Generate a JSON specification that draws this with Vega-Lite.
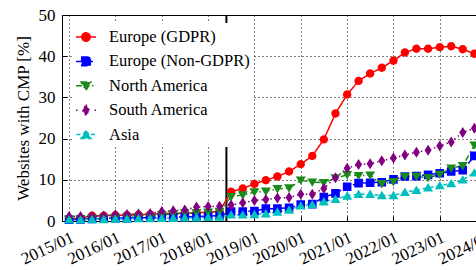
{
"$schema": "https://vega.github.io/schema/vega-lite/v6.json",
"width": 428, "height": 206,
"autosize": {"type": "none"},
"padding": {"left": 62, "top": 15, "right": -14, "bottom": 49},
"background": "white",
"config": {
  "view": {"stroke": "black", "strokeWidth": 1},
  "font": "Liberation Serif",
  "axis": {"labelFont": "Liberation Serif", "labelColor": "black", "labelFontSize": 17, "titleFont": "Liberation Serif", "titleColor": "black", "titleFontSize": 17, "titleFontWeight": "normal", "domainColor": "black", "tickColor": "black", "tickSize": -5, "gridColor": "black", "gridOpacity": 1, "gridDash": [1, 3], "gridWidth": 1},
  "legend": {"fillColor": "white", "padding": 3, "labelFont": "Liberation Serif", "labelFontSize": 16.5, "labelColor": "black", "symbolSize": 400, "symbolStrokeWidth": 1.5, "symbolOpacity": 1, "labelOffset": 12, "rowPadding": 4.4, "labelLimit": 300}
},
"datasets": {
"series": [
{"d":"2015/01/01","r":"Europe (GDPR)","v":0.5},{"d":"2015/04/01","r":"Europe (GDPR)","v":0.7},{"d":"2015/07/01","r":"Europe (GDPR)","v":1.3},{"d":"2015/10/01","r":"Europe (GDPR)","v":1.3},
{"d":"2016/01/01","r":"Europe (GDPR)","v":1.4},{"d":"2016/04/01","r":"Europe (GDPR)","v":1.4},{"d":"2016/07/01","r":"Europe (GDPR)","v":1.5},{"d":"2016/10/01","r":"Europe (GDPR)","v":1.6},
{"d":"2017/01/01","r":"Europe (GDPR)","v":1.8},{"d":"2017/04/01","r":"Europe (GDPR)","v":1.9},{"d":"2017/07/01","r":"Europe (GDPR)","v":1.9},{"d":"2017/10/01","r":"Europe (GDPR)","v":2.0},
{"d":"2018/01/01","r":"Europe (GDPR)","v":2.1},{"d":"2018/04/01","r":"Europe (GDPR)","v":2.4},{"d":"2018/07/01","r":"Europe (GDPR)","v":7.1},{"d":"2018/10/01","r":"Europe (GDPR)","v":7.9},
{"d":"2019/01/01","r":"Europe (GDPR)","v":9.0},{"d":"2019/04/01","r":"Europe (GDPR)","v":9.9},{"d":"2019/07/01","r":"Europe (GDPR)","v":10.8},{"d":"2019/10/01","r":"Europe (GDPR)","v":12.0},
{"d":"2020/01/01","r":"Europe (GDPR)","v":13.8},{"d":"2020/04/01","r":"Europe (GDPR)","v":15.8},{"d":"2020/07/01","r":"Europe (GDPR)","v":19.8},{"d":"2020/10/01","r":"Europe (GDPR)","v":26.1},
{"d":"2021/01/01","r":"Europe (GDPR)","v":30.7},{"d":"2021/04/01","r":"Europe (GDPR)","v":34.0},{"d":"2021/07/01","r":"Europe (GDPR)","v":35.8},{"d":"2021/10/01","r":"Europe (GDPR)","v":37.2},
{"d":"2022/01/01","r":"Europe (GDPR)","v":38.9},{"d":"2022/04/01","r":"Europe (GDPR)","v":40.9},{"d":"2022/07/01","r":"Europe (GDPR)","v":41.8},{"d":"2022/10/01","r":"Europe (GDPR)","v":41.8},
{"d":"2023/01/01","r":"Europe (GDPR)","v":42.2},{"d":"2023/04/01","r":"Europe (GDPR)","v":42.4},{"d":"2023/07/01","r":"Europe (GDPR)","v":41.7},{"d":"2023/10/01","r":"Europe (GDPR)","v":40.6},
{"d":"2015/01/01","r":"Europe (Non-GDPR)","v":0.3},{"d":"2015/04/01","r":"Europe (Non-GDPR)","v":0.4},{"d":"2015/07/01","r":"Europe (Non-GDPR)","v":0.5},{"d":"2015/10/01","r":"Europe (Non-GDPR)","v":0.6},
{"d":"2016/01/01","r":"Europe (Non-GDPR)","v":0.7},{"d":"2016/04/01","r":"Europe (Non-GDPR)","v":0.7},{"d":"2016/07/01","r":"Europe (Non-GDPR)","v":0.8},{"d":"2016/10/01","r":"Europe (Non-GDPR)","v":0.8},
{"d":"2017/01/01","r":"Europe (Non-GDPR)","v":0.9},{"d":"2017/04/01","r":"Europe (Non-GDPR)","v":0.9},{"d":"2017/07/01","r":"Europe (Non-GDPR)","v":1.0},{"d":"2017/10/01","r":"Europe (Non-GDPR)","v":1.1},
{"d":"2018/01/01","r":"Europe (Non-GDPR)","v":1.2},{"d":"2018/04/01","r":"Europe (Non-GDPR)","v":1.3},{"d":"2018/07/01","r":"Europe (Non-GDPR)","v":2.3},{"d":"2018/10/01","r":"Europe (Non-GDPR)","v":2.3},
{"d":"2019/01/01","r":"Europe (Non-GDPR)","v":2.4},{"d":"2019/04/01","r":"Europe (Non-GDPR)","v":3.0},{"d":"2019/07/01","r":"Europe (Non-GDPR)","v":3.0},{"d":"2019/10/01","r":"Europe (Non-GDPR)","v":3.2},
{"d":"2020/01/01","r":"Europe (Non-GDPR)","v":4.0},{"d":"2020/04/01","r":"Europe (Non-GDPR)","v":4.1},{"d":"2020/07/01","r":"Europe (Non-GDPR)","v":5.8},{"d":"2020/10/01","r":"Europe (Non-GDPR)","v":6.7},
{"d":"2021/01/01","r":"Europe (Non-GDPR)","v":8.3},{"d":"2021/04/01","r":"Europe (Non-GDPR)","v":9.2},{"d":"2021/07/01","r":"Europe (Non-GDPR)","v":9.3},{"d":"2021/10/01","r":"Europe (Non-GDPR)","v":9.4},
{"d":"2022/01/01","r":"Europe (Non-GDPR)","v":10.1},{"d":"2022/04/01","r":"Europe (Non-GDPR)","v":10.8},{"d":"2022/07/01","r":"Europe (Non-GDPR)","v":10.9},{"d":"2022/10/01","r":"Europe (Non-GDPR)","v":11.2},
{"d":"2023/01/01","r":"Europe (Non-GDPR)","v":11.6},{"d":"2023/04/01","r":"Europe (Non-GDPR)","v":12.0},{"d":"2023/07/01","r":"Europe (Non-GDPR)","v":12.3},{"d":"2023/10/01","r":"Europe (Non-GDPR)","v":15.8},
{"d":"2015/01/01","r":"North America","v":0.4},{"d":"2015/04/01","r":"North America","v":0.5},{"d":"2015/07/01","r":"North America","v":0.6},{"d":"2015/10/01","r":"North America","v":0.7},
{"d":"2016/01/01","r":"North America","v":0.8},{"d":"2016/04/01","r":"North America","v":0.9},{"d":"2016/07/01","r":"North America","v":1.0},{"d":"2016/10/01","r":"North America","v":1.1},
{"d":"2017/01/01","r":"North America","v":1.5},{"d":"2017/04/01","r":"North America","v":1.7},{"d":"2017/07/01","r":"North America","v":1.9},{"d":"2017/10/01","r":"North America","v":2.0},
{"d":"2018/01/01","r":"North America","v":2.1},{"d":"2018/04/01","r":"North America","v":2.3},{"d":"2018/07/01","r":"North America","v":5.9},{"d":"2018/10/01","r":"North America","v":6.3},
{"d":"2019/01/01","r":"North America","v":7.0},{"d":"2019/04/01","r":"North America","v":7.2},{"d":"2019/07/01","r":"North America","v":7.8},{"d":"2019/10/01","r":"North America","v":8.0},
{"d":"2020/01/01","r":"North America","v":9.9},{"d":"2020/04/01","r":"North America","v":9.4},{"d":"2020/07/01","r":"North America","v":9.3},{"d":"2020/10/01","r":"North America","v":10.4},
{"d":"2021/01/01","r":"North America","v":11.2},{"d":"2021/04/01","r":"North America","v":11.0},{"d":"2021/07/01","r":"North America","v":11.1},{"d":"2021/10/01","r":"North America","v":9.0},
{"d":"2022/01/01","r":"North America","v":9.5},{"d":"2022/04/01","r":"North America","v":10.8},{"d":"2022/07/01","r":"North America","v":10.8},{"d":"2022/10/01","r":"North America","v":10.5},
{"d":"2023/01/01","r":"North America","v":11.3},{"d":"2023/04/01","r":"North America","v":12.8},{"d":"2023/07/01","r":"North America","v":13.4},{"d":"2023/10/01","r":"North America","v":18.4},
{"d":"2015/01/01","r":"South America","v":1.1},{"d":"2015/04/01","r":"South America","v":1.1},{"d":"2015/07/01","r":"South America","v":1.1},{"d":"2015/10/01","r":"South America","v":1.2},
{"d":"2016/01/01","r":"South America","v":1.5},{"d":"2016/04/01","r":"South America","v":1.6},{"d":"2016/07/01","r":"South America","v":1.7},{"d":"2016/10/01","r":"South America","v":1.8},
{"d":"2017/01/01","r":"South America","v":2.3},{"d":"2017/04/01","r":"South America","v":2.5},{"d":"2017/07/01","r":"South America","v":2.7},{"d":"2017/10/01","r":"South America","v":3.4},
{"d":"2018/01/01","r":"South America","v":3.5},{"d":"2018/04/01","r":"South America","v":3.6},{"d":"2018/07/01","r":"South America","v":3.9},{"d":"2018/10/01","r":"South America","v":4.4},
{"d":"2019/01/01","r":"South America","v":5.0},{"d":"2019/04/01","r":"South America","v":5.2},{"d":"2019/07/01","r":"South America","v":5.6},{"d":"2019/10/01","r":"South America","v":5.7},
{"d":"2020/01/01","r":"South America","v":6.5},{"d":"2020/04/01","r":"South America","v":6.5},{"d":"2020/07/01","r":"South America","v":7.9},{"d":"2020/10/01","r":"South America","v":10.5},
{"d":"2021/01/01","r":"South America","v":12.8},{"d":"2021/04/01","r":"South America","v":13.7},{"d":"2021/07/01","r":"South America","v":13.9},{"d":"2021/10/01","r":"South America","v":14.6},
{"d":"2022/01/01","r":"South America","v":15.3},{"d":"2022/04/01","r":"South America","v":16.0},{"d":"2022/07/01","r":"South America","v":16.7},{"d":"2022/10/01","r":"South America","v":17.2},
{"d":"2023/01/01","r":"South America","v":18.2},{"d":"2023/04/01","r":"South America","v":19.2},{"d":"2023/07/01","r":"South America","v":21.5},{"d":"2023/10/01","r":"South America","v":22.5},
{"d":"2015/01/01","r":"Asia","v":0.3},{"d":"2015/04/01","r":"Asia","v":0.3},{"d":"2015/07/01","r":"Asia","v":0.4},{"d":"2015/10/01","r":"Asia","v":0.4},
{"d":"2016/01/01","r":"Asia","v":0.5},{"d":"2016/04/01","r":"Asia","v":0.5},{"d":"2016/07/01","r":"Asia","v":0.6},{"d":"2016/10/01","r":"Asia","v":0.6},
{"d":"2017/01/01","r":"Asia","v":0.7},{"d":"2017/04/01","r":"Asia","v":0.7},{"d":"2017/07/01","r":"Asia","v":0.8},{"d":"2017/10/01","r":"Asia","v":0.8},
{"d":"2018/01/01","r":"Asia","v":0.9},{"d":"2018/04/01","r":"Asia","v":1.0},{"d":"2018/07/01","r":"Asia","v":1.5},{"d":"2018/10/01","r":"Asia","v":1.5},
{"d":"2019/01/01","r":"Asia","v":1.6},{"d":"2019/04/01","r":"Asia","v":1.8},{"d":"2019/07/01","r":"Asia","v":2.2},{"d":"2019/10/01","r":"Asia","v":2.7},
{"d":"2020/01/01","r":"Asia","v":3.7},{"d":"2020/04/01","r":"Asia","v":4.0},{"d":"2020/07/01","r":"Asia","v":4.7},{"d":"2020/10/01","r":"Asia","v":5.3},
{"d":"2021/01/01","r":"Asia","v":6.1},{"d":"2021/04/01","r":"Asia","v":6.5},{"d":"2021/07/01","r":"Asia","v":6.5},{"d":"2021/10/01","r":"Asia","v":6.2},
{"d":"2022/01/01","r":"Asia","v":6.2},{"d":"2022/04/01","r":"Asia","v":7.0},{"d":"2022/07/01","r":"Asia","v":7.5},{"d":"2022/10/01","r":"Asia","v":8.1},
{"d":"2023/01/01","r":"Asia","v":8.6},{"d":"2023/04/01","r":"Asia","v":9.1},{"d":"2023/07/01","r":"Asia","v":10.0},{"d":"2023/10/01","r":"Asia","v":11.7}
],
"gdpr": [{"g": "2018/05/25"}]
},
"layer": [
{
  "data": {"name": "gdpr"},
  "mark": {"type": "rule", "color": "black", "strokeWidth": 2},
  "encoding": {
    "x": {"field": "g", "type": "temporal",
      "scale": {"domain": [{"year": 2014, "month": 11, "date": 6}, {"year": 2024, "month": 2, "date": 1}]},
      "axis": {"values": [{"year":2015,"month":1,"date":1},{"year":2016,"month":1,"date":1},{"year":2017,"month":1,"date":1},{"year":2018,"month":1,"date":1},{"year":2019,"month":1,"date":1},{"year":2020,"month":1,"date":1},{"year":2021,"month":1,"date":1},{"year":2022,"month":1,"date":1},{"year":2023,"month":1,"date":1},{"year":2024,"month":1,"date":1}],
        "format": "%Y/%m", "labelAngle": -25, "labelPadding": 13, "labelOverlap": false, "labelFlush": false, "grid": true, "title": null}
    }
  }
},
{
  "data": {"name": "series"},
  "mark": {"type": "line", "strokeWidth": 1.5},
  "encoding": {
    "x": {"field": "d", "type": "temporal"},
    "y": {"field": "v", "type": "quantitative", "scale": {"domain": [0, 50], "nice": false},
      "axis": {"values": [0, 10, 20, 30, 40, 50], "grid": true, "labelPadding": 12, "title": "Websites with CMP [%]", "titlePadding": 6}},
    "color": {"field": "r", "type": "nominal",
      "scale": {"domain": ["Europe (GDPR)", "Europe (Non-GDPR)", "North America", "South America", "Asia"], "range": ["#ff0000", "#0000ff", "#1a8a1a", "#800080", "#00bfbf"]},
      "legend": {"title": null, "orient": "none", "legendX": 10, "legendY": 8, "labelFont": "Liberation Serif", "labelFontSize": 16.5}
    },
    "strokeDash": {"field": "r", "type": "nominal", "legend": null,
      "scale": {"domain": ["Europe (GDPR)", "Europe (Non-GDPR)", "North America", "South America", "Asia"], "range": [[1, 0], [7, 3], [6, 3, 1.5, 3], [1.5, 3], [4, 3]]}}
  }
},
{
  "data": {"name": "series"},
  "mark": {"type": "point", "filled": true, "size": 400, "opacity": 1, "strokeWidth": 0},
  "encoding": {
    "x": {"field": "d", "type": "temporal"},
    "y": {"field": "v", "type": "quantitative"},
    "color": {"field": "r", "type": "nominal",
      "legend": {"title": null, "orient": "none", "legendX": 10, "legendY": 8, "labelFont": "Liberation Serif", "labelFontSize": 16.5}},
    "shape": {"field": "r", "type": "nominal",
      "legend": {"title": null, "orient": "none", "legendX": 10, "legendY": 8, "labelFont": "Liberation Serif", "labelFontSize": 16.5},
      "scale": {"domain": ["Europe (GDPR)", "Europe (Non-GDPR)", "North America", "South America", "Asia"],
        "range": ["M-1,0H1M0.42,0A0.42,0.42,0,1,1,-0.42,0A0.42,0.42,0,1,1,0.42,0Z", "M-1,0H1M-0.43,-0.43H0.43V0.43H-0.43Z", "M-1,0H-0.35M0.6,0H0.75M-0.5,-0.38H0.5L0,0.46Z", "M-1,0H-0.85M0.85,0H1M0,-0.55L0.35,0L0,0.55L-0.35,0Z", "M-0.95,0H-0.5M0.5,0H0.95M-0.5,0.38H0.5L0,-0.46Z"]}}
  }
}
]
}
